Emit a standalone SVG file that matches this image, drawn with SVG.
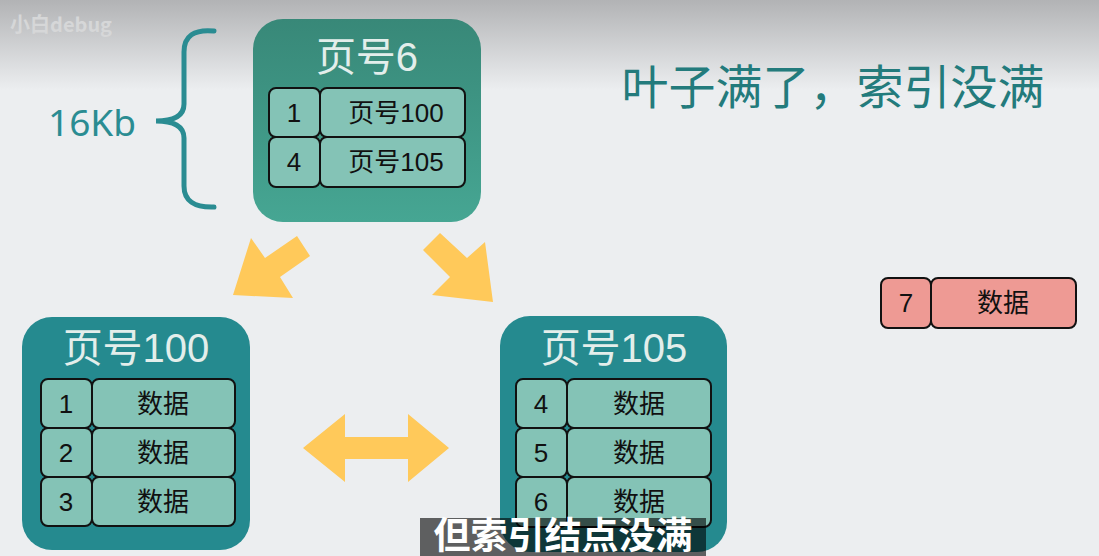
<svg xmlns="http://www.w3.org/2000/svg" width="1099" height="556" viewBox="0 0 1099 556">
<defs>
<linearGradient id="bg" x1="0" y1="0" x2="0" y2="1">
<stop offset="0" stop-color="#b2b3b5"/>
<stop offset="1" stop-color="#eceef0"/>
</linearGradient>
<linearGradient id="rootg" x1="0" y1="0" x2="0" y2="1">
<stop offset="0" stop-color="#388878"/>
<stop offset="1" stop-color="#46a693"/>
</linearGradient>
<style>
.cell{fill:#84c3b6;stroke:#111;stroke-width:2}
.red{fill:#ee9a94;stroke:#111;stroke-width:2}
.t{font-family:"Liberation Sans","Noto Sans CJK SC",sans-serif;fill:#111;font-size:26px;text-anchor:middle}
.h{font-family:"Liberation Sans","Noto Sans CJK SC",sans-serif;fill:#e3eeeb;font-size:40px;text-anchor:middle}
.arr{fill:#ffc95a}
.leaf{fill:#258a8f}
</style>
</defs>
<rect width="1099" height="556" fill="#eceef0"/>
<rect width="1099" height="90" fill="url(#bg)"/>
<text x="10" y="32" font-family="Noto Sans CJK SC, sans-serif" font-size="20" font-weight="bold" fill="#d6d7d8">小白debug</text>

<g id="brace">
<path d="M214,31 Q184,28 184,52 L184,104 Q184,121 156,121 Q184,121 184,138 L184,186 Q184,208 214,207" fill="none" stroke="#2a8c92" stroke-width="5" stroke-linecap="round"/>
<text x="92" y="136" font-family="Noto Sans, Noto Sans CJK SC, sans-serif" font-size="37" fill="#2a8c92" text-anchor="middle">16Kb</text>
</g>

<g id="title">
<text x="833" y="104" font-family="Noto Sans CJK SC, sans-serif" font-size="47" fill="#237b7c" text-anchor="middle">叶子满了，索引没满</text>
</g>

<g id="root">
<rect x="253" y="19" width="228" height="203" rx="30" fill="url(#rootg)"/>
<text class="h" x="367" y="71">页号6</text>
<rect class="cell" x="269" y="88" width="51" height="49" rx="7"/>
<rect class="cell" x="320" y="88" width="145" height="49" rx="7"/>
<rect class="cell" x="269" y="137" width="51" height="50" rx="7"/>
<rect class="cell" x="320" y="137" width="145" height="50" rx="7"/>
<text class="t" x="294" y="122">1</text>
<text class="t" x="396" y="122">页号100</text>
<text class="t" x="294" y="171">4</text>
<text class="t" x="396" y="171">页号105</text>
</g>

<g id="leaf100">
<rect class="leaf" x="22" y="317" width="228" height="233" rx="30"/>
<text class="h" x="136" y="362">页号100</text>
<rect class="cell" x="41" y="379" width="51" height="49" rx="7"/>
<rect class="cell" x="92" y="379" width="143" height="49" rx="7"/>
<rect class="cell" x="41" y="428" width="51" height="49" rx="7"/>
<rect class="cell" x="92" y="428" width="143" height="49" rx="7"/>
<rect class="cell" x="41" y="477" width="51" height="49" rx="7"/>
<rect class="cell" x="92" y="477" width="143" height="49" rx="7"/>
<text class="t" x="66" y="413">1</text>
<text class="t" x="163" y="413">数据</text>
<text class="t" x="66" y="462">2</text>
<text class="t" x="163" y="462">数据</text>
<text class="t" x="66" y="511">3</text>
<text class="t" x="163" y="511">数据</text>
</g>

<g id="leaf105">
<rect class="leaf" x="500" y="316" width="227" height="236" rx="30"/>
<text class="h" x="614" y="362">页号105</text>
<rect class="cell" x="516" y="379" width="51" height="49" rx="7"/>
<rect class="cell" x="567" y="379" width="144" height="49" rx="7"/>
<rect class="cell" x="516" y="428" width="51" height="49" rx="7"/>
<rect class="cell" x="567" y="428" width="144" height="49" rx="7"/>
<rect class="cell" x="516" y="477" width="51" height="50" rx="7"/>
<rect class="cell" x="567" y="477" width="144" height="50" rx="7"/>
<text class="t" x="541" y="413">4</text>
<text class="t" x="639" y="413">数据</text>
<text class="t" x="541" y="462">5</text>
<text class="t" x="639" y="462">数据</text>
<text class="t" x="541" y="511">6</text>
<text class="t" x="639" y="511">数据</text>
</g>

<g id="newrow">
<rect class="red" x="881" y="278" width="50" height="50" rx="7"/>
<rect class="red" x="931" y="278" width="145" height="50" rx="7"/>
<text class="t" x="906" y="312">7</text>
<text class="t" x="1003" y="312">数据</text>
</g>

<g id="connectors">
<polygon class="arr" points="233,295 251,238 265,258 297,236 310,256 280,277 293,298"/>
<polygon class="arr" points="493,302 485,242 467,258 440,233 423,250 450,277 432,295"/>
<polygon class="arr" points="303,448 345,414 345,437 408,437 408,414 449,448 408,482 408,459 345,459 345,482"/>
</g>

<g id="subtitle">
<rect x="420" y="518" width="286" height="38" fill="#000" fill-opacity="0.6"/>
<text x="563" y="549" font-family="Noto Sans CJK SC, sans-serif" font-size="37" font-weight="bold" fill="#fff" text-anchor="middle">但索引结点没满</text>
</g>
</svg>
